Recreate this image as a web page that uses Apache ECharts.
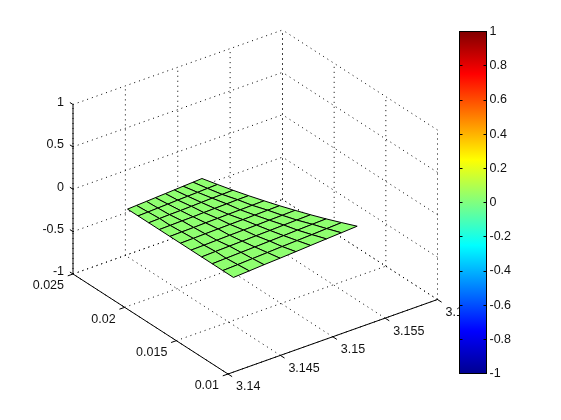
<!DOCTYPE html>
<html><head><meta charset="utf-8">
<style>html,body{margin:0;padding:0;background:#fff}#c{width:561px;height:420px}</style>
<script src="https://cdn.jsdelivr.net/npm/echarts@6/dist/echarts.min.js"></script>
</head><body><div id="c"></div>
<script>
const xTicks=[3.14,3.145,3.15,3.155,3.16];
const yTicks=[0.01,0.015,0.02,0.025];
const zTicks=[-1,-0.5,0,0.5,1];
const xTickLabels=['3.14','3.145','3.15','3.155','3.16'];
const yTickLabels=['0.01','0.015','0.02','0.025'];
const zTickLabels=['-1','-0.5','0','0.5','1'];
const surfX=[
[3.1413,3.1429,3.1444,3.1460,3.1476,3.1491,3.1507,3.1522,3.1538],
[3.1413,3.1428,3.1443,3.1458,3.1473,3.1488,3.1503,3.1518,3.1533],
[3.1413,3.1427,3.1442,3.1456,3.1471,3.1485,3.1499,3.1514,3.1528],
[3.1413,3.1427,3.1441,3.1454,3.1468,3.1482,3.1496,3.1509,3.1523],
[3.1413,3.1426,3.1439,3.1452,3.1466,3.1479,3.1492,3.1505,3.1518],
[3.1413,3.1426,3.1438,3.1451,3.1463,3.1476,3.1488,3.1501,3.1513],
[3.1413,3.1425,3.1437,3.1449,3.1461,3.1472,3.1484,3.1496,3.1508],
[3.1413,3.1424,3.1436,3.1447,3.1458,3.1469,3.1481,3.1492,3.1503],
[3.1413,3.1424,3.1434,3.1445,3.1456,3.1466,3.1477,3.1487,3.1498],
[3.1413,3.1423,3.1433,3.1443,3.1453,3.1463,3.1473,3.1483,3.1493],
[3.1413,3.1422,3.1432,3.1441,3.1451,3.1460,3.1469,3.1479,3.1488]];
const surfY=[
[.01079,.01088,.01097,.01105,.01114,.01123,.01132,.01140,.01149],
[.01182,.01190,.01199,.01207,.01216,.01224,.01232,.01241,.01249],
[.01284,.01292,.01300,.01308,.01316,.01324,.01332,.01340,.01348],
[.01387,.01395,.01402,.01410,.01418,.01425,.01433,.01440,.01448],
[.01489,.01496,.01504,.01511,.01518,.01525,.01533,.01540,.01547],
[.01592,.01599,.01606,.01613,.01620,.01626,.01633,.01640,.01647],
[.01694,.01701,.01707,.01714,.01720,.01727,.01733,.01740,.01746],
[.01797,.01803,.01809,.01815,.01822,.01828,.01834,.01840,.01846],
[.01899,.01905,.01911,.01916,.01922,.01928,.01934,.01939,.01945],
[.02002,.02007,.02013,.02018,.02024,.02029,.02034,.02040,.02045],
[.02104,.02109,.02114,.02119,.02124,.02129,.02134,.02139,.02144]];
const surfZ=[
[.020,.020,.020,.020,.020,.020,.020,.020,.020],
[.020,.018,.016,.015,.013,.011,.009,.007,.006],
[.020,.017,.014,.010,.007,.004,.001,-.002,-.006],
[.020,.016,.012,.007,.003,-.001,-.005,-.009,-.014],
[.020,.015,.010,.006,.001,-.004,-.009,-.014,-.018],
[.020,.015,.010,.005,.000,-.005,-.010,-.015,-.020],
[.020,.015,.010,.006,.001,-.004,-.009,-.014,-.018],
[.020,.016,.012,.007,.003,-.001,-.005,-.009,-.014],
[.020,.017,.014,.010,.007,.004,.001,-.002,-.006],
[.020,.018,.016,.015,.013,.011,.009,.007,.006],
[.020,.020,.020,.020,.020,.020,.020,.020,.020]];
const surfaceColorValue=0.01;
const colorbarRange=[-1,1];
const jetStops=[[0,'#00008f'],[0.125,'#0000ff'],[0.375,'#00ffff'],[0.625,'#ffff00'],[0.875,'#ff0000'],[1,'#800000']];

const xMin=xTicks[0],xMax=xTicks[xTicks.length-1];
const yMin=yTicks[0],yMax=yTicks[yTicks.length-1];
const zMin=zTicks[0],zMax=zTicks[zTicks.length-1];
function project(x,y,z){
  const X=(x-xMin)/(xMax-xMin),Y=(y-yMin)/(yMax-yMin),Z=(z-zMin)/(zMax-zMin);
  return [228+209.5*X-155*Y, 374-74.5*X-100*Y-169.5*Z];
}
function jet(v){
  const s=(v-colorbarRange[0])/(colorbarRange[1]-colorbarRange[0]);
  const t=(Math.min(63,Math.floor(s*64))+1)/64;
  const c=d=>Math.round(255*Math.max(0,Math.min(1,1.5-Math.abs(4*t-d))));
  return 'rgb('+c(3)+','+c(2)+','+c(1)+')';
}
const quads=[];
for(let j=surfX.length-2;j>=0;j--)for(let i=surfX[0].length-2;i>=0;i--){
  const v=[[j,i],[j,i+1],[j+1,i+1],[j+1,i]];
  quads.push(v.flatMap(([a,b])=>[surfX[a][b],surfY[a][b],surfZ[a][b]]));
}
const gridLines=[];
xTicks.forEach(x=>{gridLines.push([x,yMin,zMin,x,yMax,zMin]);gridLines.push([x,yMax,zMin,x,yMax,zMax]);});
yTicks.forEach(y=>{gridLines.push([xMin,y,zMin,xMax,y,zMin]);gridLines.push([xMax,y,zMin,xMax,y,zMax]);});
zTicks.forEach(z=>{gridLines.push([xMin,yMax,z,xMax,yMax,z]);gridLines.push([xMax,yMin,z,xMax,yMax,z]);});
const axisLines=[[xMin,yMin,zMin,xMax,yMin,zMin],[xMin,yMin,zMin,xMin,yMax,zMin],[xMin,yMax,zMin,xMin,yMax,zMax]];
xTicks.forEach(x=>axisLines.push([x,yMin,zMin,x,yMin-0.0004,zMin]));
yTicks.forEach(y=>axisLines.push([xMin,y,zMin,xMin-0.0005,y,zMin]));
zTicks.forEach(z=>axisLines.push([xMin,yMax,z,xMin,yMax+0.0003,z]));
const labels=[];
xTicks.forEach((x,i)=>labels.push([x,yMin,zMin,xTickLabels[i],8,13,'left']));
yTicks.forEach((y,i)=>labels.push([xMin,y,zMin,yTickLabels[i],-9,12,'right']));
zTicks.forEach((z,i)=>labels.push([xMin,yMax,z,zTickLabels[i],-9,-2,'right']));

const lineItem=(rows,style)=>(p,api)=>{
  const r=rows[p.dataIndex];
  const a=api.coord(project(r[0],r[1],r[2])),b=api.coord(project(r[3],r[4],r[5]));
  return {type:'line',shape:{x1:a[0],y1:a[1],x2:b[0],y2:b[1]},style};
};
const chart=echarts.init(document.getElementById('c'),null,{renderer:'canvas'});
chart.setOption({
  animation:false,backgroundColor:'#fff',
  textStyle:{fontFamily:'"Liberation Sans",Arial,sans-serif'},
  grid:[
    {left:0,top:0,width:561,height:420,show:false},
    {left:459.5,top:31.5,width:27,height:342,show:false}
  ],
  xAxis:[
    {gridIndex:0,type:'value',min:0,max:561,show:false},
    {gridIndex:1,type:'value',min:0,max:1,show:false}
  ],
  yAxis:[
    {gridIndex:0,type:'value',min:0,max:420,inverse:true,show:false},
    {gridIndex:1,type:'value',min:colorbarRange[0],max:colorbarRange[1],interval:0.2,position:'right',z:5,
      axisLine:{show:true,onZero:false,lineStyle:{color:'#000',width:1}},
      axisTick:{show:true,inside:true,length:3,lineStyle:{color:'#000',width:1}},
      axisLabel:{show:true,inside:false,margin:3,color:'#111',fontSize:12.5,fontFamily:'"Liberation Sans",Arial,sans-serif',showMinLabel:true,showMaxLabel:true,hideOverlap:false},
      splitLine:{show:false}},
    {gridIndex:1,type:'value',min:colorbarRange[0],max:colorbarRange[1],interval:0.2,position:'left',z:5,
      axisLine:{show:true,onZero:false,lineStyle:{color:'#000',width:1}},
      axisTick:{show:true,inside:true,length:3,lineStyle:{color:'#000',width:1}},
      axisLabel:{show:false},splitLine:{show:false}}
  ],
  series:[
    {type:'custom',xAxisIndex:0,yAxisIndex:0,coordinateSystem:'cartesian2d',clip:false,silent:true,z:1,
      data:gridLines,renderItem:lineItem(gridLines,{stroke:'#000',lineWidth:1,lineDash:[1,4],fill:null})},
    {type:'custom',xAxisIndex:0,yAxisIndex:0,coordinateSystem:'cartesian2d',clip:false,silent:true,z:2,
      data:axisLines,renderItem:lineItem(axisLines,{stroke:'#000',lineWidth:1,fill:null})},
    {type:'custom',xAxisIndex:0,yAxisIndex:0,coordinateSystem:'cartesian2d',clip:false,silent:true,z:2,
      data:labels.map(r=>[r[0],r[1],r[2]]),
      renderItem:(p,api)=>{
        const r=labels[p.dataIndex];const a=api.coord(project(r[0],r[1],r[2]));
        return {type:'text',x:a[0]+r[4],y:a[1]+r[5],style:{text:r[3],fill:'#111',font:'12.5px "Liberation Sans",Arial,sans-serif',align:r[6],verticalAlign:'middle'}};
      }},
    {type:'custom',xAxisIndex:0,yAxisIndex:0,coordinateSystem:'cartesian2d',clip:false,silent:true,z:3,
      data:quads,
      renderItem:(p,api)=>{
        const q=quads[p.dataIndex],pts=[];
        for(let k=0;k<4;k++){pts.push(api.coord(project(q[3*k],q[3*k+1],q[3*k+2])));}
        return {type:'polygon',shape:{points:pts},style:{fill:jet(surfaceColorValue),stroke:'#000',lineWidth:1,lineJoin:'round'}};
      }},
    {type:'custom',xAxisIndex:1,yAxisIndex:1,coordinateSystem:'cartesian2d',clip:false,silent:true,z:4,
      data:[[0,colorbarRange[0],1,colorbarRange[1]]],
      renderItem:(p,api)=>{
        const a=api.coord([api.value(0),api.value(1)]),b=api.coord([api.value(2),api.value(3)]);
        return {type:'rect',shape:{x:a[0],y:b[1],width:b[0]-a[0],height:a[1]-b[1]},
          style:{fill:new echarts.graphic.LinearGradient(0,1,0,0,jetStops.map(s=>({offset:s[0],color:s[1]}))),stroke:'#000',lineWidth:1}};
      }}
  ]
});
</script></body></html>
